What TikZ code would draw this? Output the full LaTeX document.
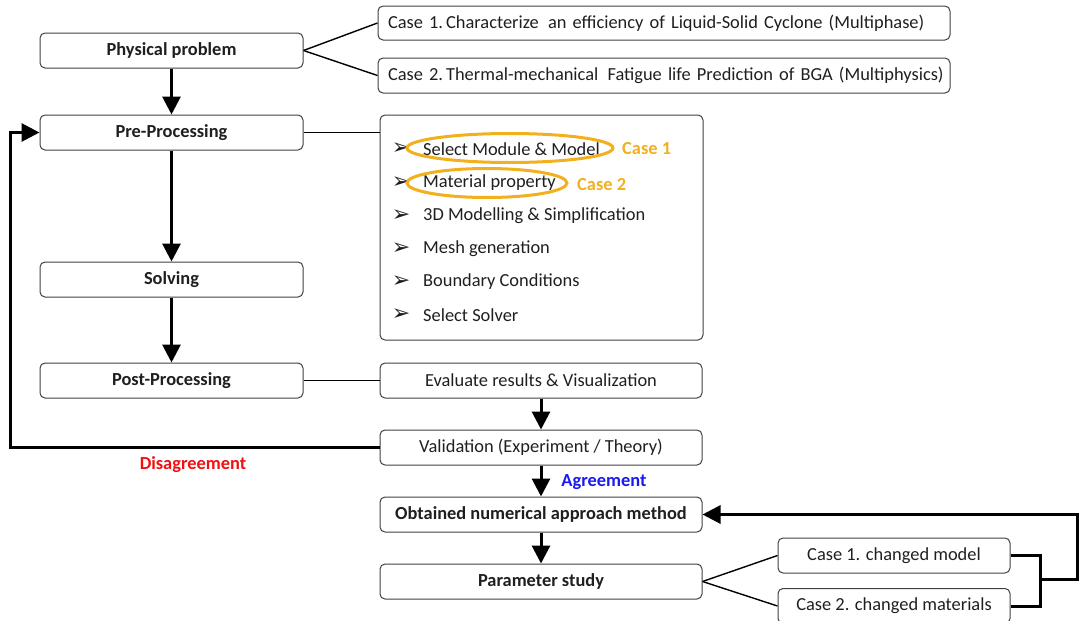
\documentclass[tikz,border=0pt]{standalone}
\usepackage{fontspec}
\setmainfont{Carlito}
\newfontfamily\symfont{DejaVu Sans}
\usetikzlibrary{arrows.meta,shapes.geometric}
\definecolor{boxline}{HTML}{404040}
\definecolor{txt}{HTML}{1F1F1F}
\definecolor{gold}{HTML}{F2B01E}
\definecolor{disred}{HTML}{F01010}
\definecolor{agblue}{HTML}{1A1AF0}
\newcommand{\fs}{\fontsize{18.4}{21}\selectfont}
\tikzset{
  stepbox/.style={draw=boxline, line width=1pt, rounded corners=5pt, text=txt, font=\fs, inner sep=0pt},
  boldbox/.style={stepbox, font=\fs\bfseries},
  leftbox/.style={stepbox, text width=#1, align=left, inner xsep=10pt},
  thinline/.style={draw=black, line width=1.4pt},
  thickline/.style={draw=black, line width=3pt},
  bigarrow/.style={thickline, -{Triangle[length=18pt,width=18pt]}},
  item/.style={anchor=west, inner sep=0pt, text=txt, font=\fs},
  bullet/.style={inner sep=0pt, text=txt, font=\symfont\fontsize{22}{24}\selectfont},
  oval/.style={draw=gold, line width=3pt, ellipse, inner sep=0pt},
  caselabel/.style={inner sep=0pt, text=gold, font=\fs\bfseries},
}
\begin{document}
\begin{tikzpicture}[x=1pt,y=-1pt]
\useasboundingbox (0,0) rectangle (1085,621);
% left column
\node[boldbox, minimum width=263pt, minimum height=35pt] (phys) at (171.5,50.5) {Physical problem};
\node[boldbox, minimum width=263pt, minimum height=35pt] (pre) at (171.5,132.5) {Pre-Processing};
\node[boldbox, minimum width=263pt, minimum height=35pt] (solv) at (171.5,279.5) {Solving};
\node[boldbox, minimum width=263pt, minimum height=35pt] (post) at (171.5,380.5) {Post-Processing};
% top case boxes
\node[leftbox=552pt, minimum height=34pt] (c1) at (664,23) {\mbox{Case 1.\,Characterize \,an efficiency of Liquid-Solid Cyclone (Multiphase)}};
\node[leftbox=552pt, minimum height=35pt] (c2) at (664,75.5) {\mbox{Case 2.\,Thermal-mechanical \,Fatigue life Prediction of BGA (Multiphysics)}};
% list box
\node[stepbox, minimum width=323pt, minimum height=225pt] (list) at (541.5,227.5) {};
\node[bullet] (b1) at (401,149) {➢};
\node[bullet] (b2) at (401,183) {➢};
\node[bullet] (b3) at (401,216) {➢};
\node[bullet] (b4) at (401,249) {➢};
\node[bullet] (b5) at (401,282) {➢};
\node[bullet] (b6) at (401,315) {➢};
\node[item] (i1) at (423,149) {Select Module \& Model};
\node[item] (i2) at (423,183) {Material property};
\node[item] (i3) at (423,216) {3D Modelling \& Simplification};
\node[item] (i4) at (423,249) {Mesh generation};
\node[item] (i5) at (423,282) {Boundary Conditions};
\node[item] (i6) at (423,315) {Select Solver};
\node[oval, minimum width=206pt, minimum height=29pt] (e1) at (510,148) {};
\node[oval, minimum width=160pt, minimum height=29pt] (e2) at (487,183) {};
\node[caselabel, anchor=west] (l1) at (622,149) {Case 1};
\node[caselabel, anchor=west] (l2) at (577,185) {Case 2};
% right column
\node[stepbox, minimum width=322pt, minimum height=35pt] (eval) at (541,380.5) {Evaluate results \& Visualization};
\node[stepbox, minimum width=322pt, minimum height=35pt] (valid) at (541,447.5) {Validation (Experiment / Theory)};
\node[boldbox, minimum width=322pt, minimum height=35pt] (obt) at (541,514.5) {Obtained numerical approach method};
\node[boldbox, minimum width=322pt, minimum height=35pt] (param) at (541,581.5) {Parameter study};
\node[stepbox, minimum width=232pt, minimum height=35pt] (cc1) at (894,555.5) {Case 1. changed model};
\node[stepbox, minimum width=232pt, minimum height=35pt] (cc2) at (894,606) {Case 2. changed materials};
% labels
\node[inner sep=0pt, text=disred, font=\fs\bfseries] (dis) at (193,465) {Disagreement};
\node[inner sep=0pt, text=agblue, font=\fs\bfseries] (agr) at (604,482) {Agreement};
% connectors
\draw[thinline] (phys.east) -- (c1.west);
\draw[thinline] (phys.east) -- (c2.west);
\draw[bigarrow] (phys) -- (pre);
\draw[bigarrow] (pre) -- (solv);
\draw[bigarrow] (solv) -- (post);
\draw[thinline] (pre.east) -- (pre.east -| list.west);
\draw[thinline] (post) -- (eval);
\draw[bigarrow] (eval) -- (valid);
\draw[bigarrow] (valid) -- (obt);
\draw[bigarrow] (obt) -- (param);
\coordinate (lt) at (10,132.5);
\draw[bigarrow] (valid.west) -- (valid.west -| lt) -- (lt) -- (pre.west);
\draw[thinline] (param.east) -- (cc1.west);
\draw[thinline] (param.east) -- (cc2.west);
\coordinate (bx) at (1040,579);
\coordinate (bo) at (1077,579);
\draw[thickline] (cc1.east) -| (bx);
\draw[thickline] (cc2.east) -| (bx);
\draw[bigarrow] (bx) -- (bo) -- (bo |- obt.east) -- (obt.east);
\end{tikzpicture}
\end{document}
